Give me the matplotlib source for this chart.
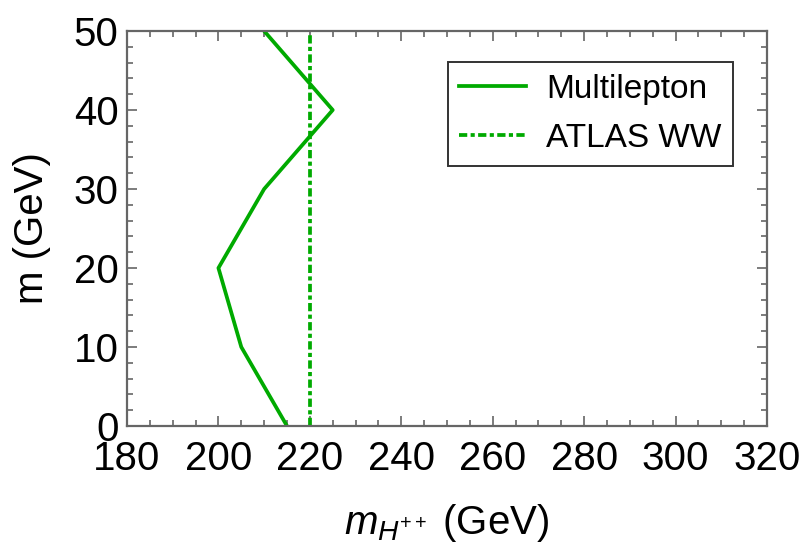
import matplotlib
matplotlib.use("Agg")
import matplotlib.pyplot as plt
from matplotlib.ticker import MultipleLocator

plt.rcParams['font.family'] = ['Liberation Sans', 'DejaVu Sans']
plt.rcParams['mathtext.fontset'] = 'custom'
plt.rcParams['mathtext.it'] = 'Liberation Sans:italic'
plt.rcParams['mathtext.rm'] = 'Liberation Sans'

# Data
multi_m = [0, 10, 20, 30, 40, 50]
multi_mH = [215, 205, 200, 210, 225, 210]
atlas_mH = 220
xlim = (180, 320)
ylim = (0, 50)

green = '#00AA00'
gray = '#666666'

fig = plt.figure(figsize=(8.07, 5.46), dpi=100)
ax = fig.add_axes([127/807, 1-426/546, (767-127)/807, (426-31)/546])

ax.plot(multi_mH, multi_m, color=green, lw=2.7, label='Multilepton')
ax.axvline(atlas_mH, color=green, lw=2.7, linestyle=(0, (2.2, 0.9, 1.1, 0.9)), label='ATLAS WW')

ax.set_xlim(*xlim)
ax.set_ylim(*ylim)
ax.xaxis.set_major_locator(MultipleLocator(20))
ax.xaxis.set_minor_locator(MultipleLocator(5))
ax.yaxis.set_major_locator(MultipleLocator(10))
ax.yaxis.set_minor_locator(MultipleLocator(2))
ax.tick_params(which='both', direction='in', top=True, right=True, color=gray, width=1.2, labelsize=29, labelcolor='black')
ax.tick_params(which='major', length=7)
ax.tick_params(axis='x', which='major', pad=10)
ax.tick_params(axis='y', which='major', pad=6)
ax.tick_params(which='minor', length=4)
for s in ax.spines.values():
    s.set_color(gray)
    s.set_linewidth(1.6)

ax.set_xlabel(r'$m_{H^{++}}$ (GeV)', fontsize=29)
ax.xaxis.set_label_coords(0.5, -(523-426)/395, transform=ax.transAxes)
ax.xaxis.label.set_va('center')
ax.set_ylabel('m (GeV)', fontsize=29)
ax.yaxis.set_label_coords(-(127-32)/640, 0.5, transform=ax.transAxes)
ax.yaxis.label.set_va('center')

leg = ax.legend(loc='upper right', bbox_to_anchor=((733-127)/640, (426-62)/395), fontsize=24,
                frameon=True, fancybox=False, handlelength=2.0, borderpad=0.35, labelspacing=0.55,
                handletextpad=0.6, borderaxespad=0)
leg.get_frame().set_edgecolor('black')
leg.get_frame().set_linewidth(1.4)

fig.savefig('out.png', dpi=100)
